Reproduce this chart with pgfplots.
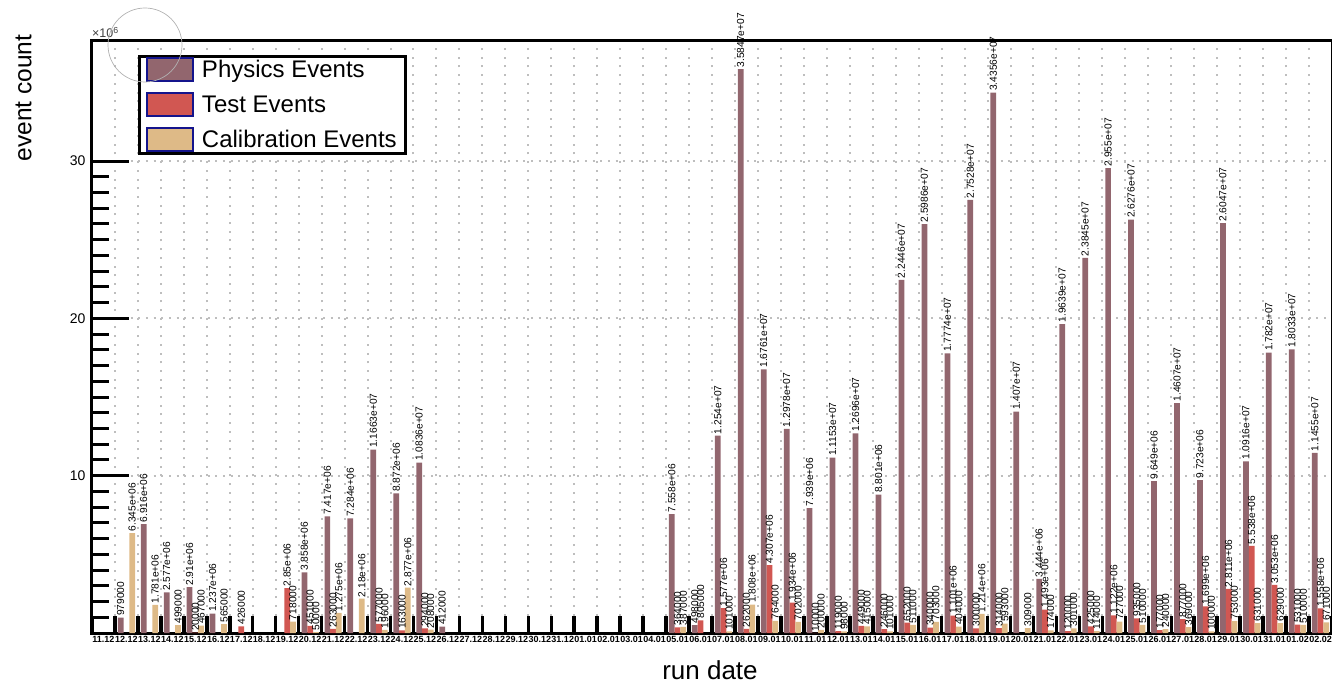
\documentclass[border=0pt]{standalone}
\usepackage{fontspec}
\setmainfont{Liberation Sans}
\usepackage{pgfplots}
\usepackage{pgfplotstable}
\pgfplotsset{compat=1.18}
\usetikzlibrary{calc}

\definecolor{phys}{RGB}{146,102,110}
\definecolor{testc}{RGB}{209,87,82}
\definecolor{calib}{RGB}{222,186,135}
\definecolor{legbd}{RGB}{20,20,140}
\definecolor{gridc}{RGB}{190,190,190}

\pgfplotstableread{
x y lab
1 0.979 979000
2 6.916 6.916e+06
3 2.577 2.577e+06
4 2.91 2.91e+06
5 1.237 1.237e+06
9 3.858 3.858e+06
10 7.417 7.417e+06
11 7.284 7.284e+06
12 11.663 1.1663e+07
13 8.872 8.872e+06
14 10.836 1.0836e+07
15 0.412 412000
25 7.558 7.558e+06
26 0.498 498000
27 12.54 1.254e+07
28 35.847 3.5847e+07
29 16.761 1.6761e+07
30 12.978 1.2978e+07
31 7.939 7.939e+06
32 11.153 1.1153e+07
33 12.696 1.2696e+07
34 8.801 8.801e+06
35 22.446 2.2446e+07
36 25.986 2.5986e+07
37 17.774 1.7774e+07
38 27.528 2.7528e+07
39 34.356 3.4356e+07
40 14.07 1.407e+07
41 3.444 3.444e+06
42 19.639 1.9639e+07
43 23.845 2.3845e+07
44 29.55 2.955e+07
45 26.276 2.6276e+07
46 9.649 9.649e+06
47 14.607 1.4607e+07
48 9.723 9.723e+06
49 26.047 2.6047e+07
50 10.916 1.0916e+07
51 17.82 1.782e+07
52 18.033 1.8033e+07
53 11.455 1.1455e+07
}\tphys

\pgfplotstableread{
x y lab
4 0.02 20000
6 0.426 426000
8 2.85 2.85e+06
9 0.451 451000
10 0.263 263000
12 0.577 577000
13 0.163 163000
14 0.294 294000
25 0.364 364000
26 0.805 805000
27 1.577 1.577e+06
28 0.262 262000
29 4.307 4.307e+06
30 1.934 1.934e+06
31 0.01 10000
32 0.119 119000
33 0.449 449000
34 0.246 246000
35 0.652 652000
36 0.34 340000
37 1.101 1.101e+06
38 0.3 300000
39 0.314 314000
41 1.493 1.493e+06
42 0.12 120000
43 0.425 425000
44 1.122 1.122e+06
45 0.935 935000
46 0.177 177000
47 0.877 877000
48 1.699 1.699e+06
49 2.811 2.811e+06
50 5.538 5.538e+06
51 3.053 3.053e+06
52 0.531 531000
53 1.558 1.558e+06
}\ttest

\pgfplotstableread{
x y lab
1 6.345 6.345e+06
2 1.781 1.781e+06
3 0.499 499000
4 0.467 467000
5 0.565 565000
8 0.718 718000
9 0.05 50000
10 1.275 1.275e+06
11 2.18 2.18e+06
12 0.196 196000
13 2.877 2.877e+06
14 0.208 208000
25 0.387 387000
27 0.101 101000
28 1.808 1.808e+06
29 0.764 764000
30 0.702 702000
31 0.2 200000
32 0.098 98000
33 0.415 415000
34 0.101 101000
35 0.511 511000
36 0.703 703000
37 0.404 404000
38 1.214 1.214e+06
39 0.593 593000
40 0.309 309000
41 0.174 174000
42 0.301 301000
43 0.114 114000
44 0.727 727000
45 0.51 510000
46 0.24 240000
47 0.369 369000
48 0.1 100000
49 0.753 753000
50 0.631 631000
51 0.629 629000
52 0.51 510000
53 0.671 671000
}\tcalib

\pgfplotsset{
  legimg/.style={legend image code/.code={\draw[##1, draw=legbd, line width=2pt] (0pt,-11.5pt) rectangle (46pt,11.5pt);}},
  barstyle/.style={ybar, bar width=0.25, bar shift=0pt, draw=none, nodes near coords, point meta=explicit symbolic, legimg},
}

\begin{document}
\begin{tikzpicture}
\begin{axis}[
  name=ax,
  scale only axis, width=1240pt, height=592pt,
  xmin=-0.5, xmax=53.5, ymin=0, ymax=37.63,
  clip=false,
  axis line style={line width=3pt},
  tick pos=left,
  tick align=inside,
  /pgf/number format/assume math mode=true,
  xtick={0,...,53},
  xticklabels={11.12,12.12,13.12,14.12,15.12,16.12,17.12,18.12,19.12,20.12,21.12,22.12,23.12,24.12,25.12,26.12,27.12,28.12,29.12,30.12,31.12,01.01,02.01,03.01,04.01,05.01,06.01,07.01,08.01,09.01,10.01,11.01,12.01,13.01,14.01,15.01,16.01,17.01,18.01,19.01,20.01,21.01,22.01,23.01,24.01,25.01,26.01,27.01,28.01,29.01,30.01,31.01,01.02,02.02},
  x tick label style={font=\bfseries\fontsize{9}{9}\selectfont, inner sep=1pt, yshift=-2pt},
  major x tick style={draw=none},
  minor xtick={-0.5,0.5,...,53.5},
  minor x tick style={line width=3.5pt, black},
  xminorgrids=true,
  minor x grid style={gridc, line width=2pt, dash pattern=on 2pt off 6.7pt},
  ytick={0,10,20,30},
  yticklabels={,10,20,30},
  minor y tick num=9,
  y tick style={line width=3pt, black},
  major tick length=37pt,
  minor tick length=17pt,
  ymajorgrids=true,
  major y grid style={gridc, line width=2pt, dash pattern=on 2pt off 5.7pt},
  y tick label style={font=\fontsize{14}{14}\selectfont, xshift=-3pt},
  every node near coord/.append style={rotate=90, anchor=west, font=\fontsize{10.2}{10.2}\selectfont, inner sep=1.5pt, text=black},
  legend style={at={(0.0371,0.9764)}, anchor=north west, draw=black, line width=3pt,
    font=\fontsize{24}{26}\selectfont, inner xsep=7pt, inner ysep=1pt, row sep=10pt,
    nodes={inner sep=1.5pt},
    /tikz/every odd column/.append style={column sep=6pt}},
  legend cell align=left,
]
\addplot[barstyle, fill=phys] table[x expr=\thisrow{x}-0.25, y=y, meta=lab] {\tphys};
\addlegendentry{Physics Events}
\addplot[barstyle, fill=testc] table[x expr=\thisrow{x}, y=y, meta=lab] {\ttest};
\addlegendentry{Test Events}
\addplot[barstyle, fill=calib] table[x expr=\thisrow{x}+0.25, y=y, meta=lab] {\tcalib};
\addlegendentry{Calibration Events}
\end{axis}
\node[anchor=south west, inner sep=0pt, text=black!75, font=\fontsize{12.5}{12.5}\selectfont] at ($(ax.north west)+(0pt,3pt)$) {×10\textsuperscript{6}};
\draw[gray!60, line width=0.7pt] ($(ax.north west)+(53pt,-4pt)$) circle (37pt);
\node[rotate=90, font=\fontsize{24.5}{24.5}\selectfont] at ($(ax.south west)+(-68.5pt,535pt)$) {event count};
\node[font=\fontsize{26}{26}\selectfont] at ($(ax.south west)+(618pt,-37pt)$) {run date};
\pgfresetboundingbox
\path[use as bounding box] ($(ax.south west)+(-92pt,-47pt)$) rectangle ($(ax.north east)+(0pt,41pt)$);
\end{tikzpicture}
\end{document}
